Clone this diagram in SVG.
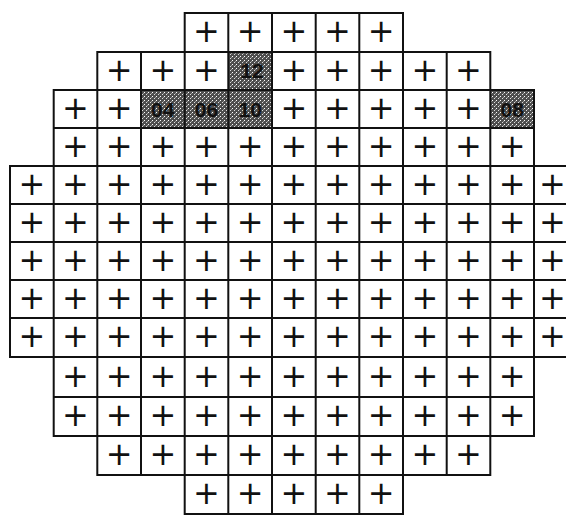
<svg xmlns="http://www.w3.org/2000/svg" width="566" height="515" viewBox="0 0 566 515">
<style>
.g{fill:none;stroke:#111;stroke-width:2}
.p{font-family:"DejaVu Sans",sans-serif;font-size:32px;fill:#111;text-anchor:middle}
.l{font-family:"Liberation Sans",Arial,sans-serif;font-size:21px;font-weight:bold;fill:#111;text-anchor:middle}
.s{fill:url(#st)}
</style>
<defs>
<pattern id="st" width="4" height="4" patternUnits="userSpaceOnUse">
<rect width="4" height="4" fill="#4e4e4e"/>
<rect x="0" y="0" width="1" height="1" fill="#fff"/>
<rect x="2" y="2" width="1" height="1" fill="#ddd"/>
<rect x="3" y="1" width="1" height="1" fill="#999"/>
</pattern>
</defs>
<rect width="566" height="515" fill="#fff"/>
<g id="shaded">
<rect class="s" x="228.3" y="52" width="43.7" height="38"/>
<rect class="s" x="141" y="90" width="131" height="38"/>
<rect class="s" x="490.3" y="90" width="43.7" height="38"/>
</g>
<g id="grid">
<rect class="g" x="184.7" y="13" width="218.3" height="39"/>
<path class="g" d="M228.3 13V52M272 13V52M315.7 13V52M359.3 13V52"/>
<rect class="g" x="97.3" y="52" width="393" height="38"/>
<path class="g" d="M141 52V90M184.7 52V90M228.3 52V90M272 52V90M315.7 52V90M359.3 52V90M403 52V90M446.7 52V90"/>
<rect class="g" x="53.7" y="90" width="480.3" height="76"/>
<path class="g" d="M53.7 128H534M97.3 90V166M141 90V166M184.7 90V166M228.3 90V166M272 90V166M315.7 90V166M359.3 90V166M403 90V166M446.7 90V166M490.3 90V166"/>
<rect class="g" x="10" y="166" width="567.7" height="191"/>
<path class="g" d="M10 204H578M10 242H578M10 280H578M10 318H578M53.7 166V357M97.3 166V357M141 166V357M184.7 166V357M228.3 166V357M272 166V357M315.7 166V357M359.3 166V357M403 166V357M446.7 166V357M490.3 166V357M534 166V357"/>
<rect class="g" x="53.7" y="357" width="480.3" height="79"/>
<path class="g" d="M53.7 397H534M97.3 357V436M141 357V436M184.7 357V436M228.3 357V436M272 357V436M315.7 357V436M359.3 357V436M403 357V436M446.7 357V436M490.3 357V436"/>
<rect class="g" x="97.3" y="436" width="393" height="39"/>
<path class="g" d="M141 436V475M184.7 436V475M228.3 436V475M272 436V475M315.7 436V475M359.3 436V475M403 436V475M446.7 436V475"/>
<rect class="g" x="184.7" y="475" width="218.3" height="39"/>
<path class="g" d="M228.3 475V514M272 475V514M315.7 475V514M359.3 475V514"/>
</g>
<g id="labels">
<text class="l" x="252" y="78">12</text>
<text class="l" x="162.8" y="116.5">04</text>
<text class="l" x="206.5" y="116.5">06</text>
<text class="l" x="250.2" y="116.5">10</text>
<text class="l" x="512.2" y="116.5">08</text>
</g>
<g id="marks">
<text class="p" x="206.5" y="42">+</text><text class="p" x="250.2" y="42">+</text><text class="p" x="293.8" y="42">+</text><text class="p" x="337.5" y="42">+</text><text class="p" x="381.2" y="42">+</text>
<text class="p" x="119.2" y="80.5">+</text><text class="p" x="162.8" y="80.5">+</text><text class="p" x="206.5" y="80.5">+</text><text class="p" x="293.8" y="80.5">+</text><text class="p" x="337.5" y="80.5">+</text><text class="p" x="381.2" y="80.5">+</text><text class="p" x="424.8" y="80.5">+</text><text class="p" x="468.5" y="80.5">+</text>
<text class="p" x="75.5" y="118.5">+</text><text class="p" x="119.2" y="118.5">+</text><text class="p" x="293.8" y="118.5">+</text><text class="p" x="337.5" y="118.5">+</text><text class="p" x="381.2" y="118.5">+</text><text class="p" x="424.8" y="118.5">+</text><text class="p" x="468.5" y="118.5">+</text>
<text class="p" x="75.5" y="156.5">+</text><text class="p" x="119.2" y="156.5">+</text><text class="p" x="162.8" y="156.5">+</text><text class="p" x="206.5" y="156.5">+</text><text class="p" x="250.2" y="156.5">+</text><text class="p" x="293.8" y="156.5">+</text><text class="p" x="337.5" y="156.5">+</text><text class="p" x="381.2" y="156.5">+</text><text class="p" x="424.8" y="156.5">+</text><text class="p" x="468.5" y="156.5">+</text><text class="p" x="512.2" y="156.5">+</text>
<text class="p" x="31.8" y="194.5">+</text><text class="p" x="75.5" y="194.5">+</text><text class="p" x="119.2" y="194.5">+</text><text class="p" x="162.8" y="194.5">+</text><text class="p" x="206.5" y="194.5">+</text><text class="p" x="250.2" y="194.5">+</text><text class="p" x="293.8" y="194.5">+</text><text class="p" x="337.5" y="194.5">+</text><text class="p" x="381.2" y="194.5">+</text><text class="p" x="424.8" y="194.5">+</text><text class="p" x="468.5" y="194.5">+</text><text class="p" x="512.2" y="194.5">+</text><text class="p" x="552.5" y="194.5">+</text>
<text class="p" x="31.8" y="232.5">+</text><text class="p" x="75.5" y="232.5">+</text><text class="p" x="119.2" y="232.5">+</text><text class="p" x="162.8" y="232.5">+</text><text class="p" x="206.5" y="232.5">+</text><text class="p" x="250.2" y="232.5">+</text><text class="p" x="293.8" y="232.5">+</text><text class="p" x="337.5" y="232.5">+</text><text class="p" x="381.2" y="232.5">+</text><text class="p" x="424.8" y="232.5">+</text><text class="p" x="468.5" y="232.5">+</text><text class="p" x="512.2" y="232.5">+</text><text class="p" x="552.5" y="232.5">+</text>
<text class="p" x="31.8" y="270.5">+</text><text class="p" x="75.5" y="270.5">+</text><text class="p" x="119.2" y="270.5">+</text><text class="p" x="162.8" y="270.5">+</text><text class="p" x="206.5" y="270.5">+</text><text class="p" x="250.2" y="270.5">+</text><text class="p" x="293.8" y="270.5">+</text><text class="p" x="337.5" y="270.5">+</text><text class="p" x="381.2" y="270.5">+</text><text class="p" x="424.8" y="270.5">+</text><text class="p" x="468.5" y="270.5">+</text><text class="p" x="512.2" y="270.5">+</text><text class="p" x="552.5" y="270.5">+</text>
<text class="p" x="31.8" y="308.5">+</text><text class="p" x="75.5" y="308.5">+</text><text class="p" x="119.2" y="308.5">+</text><text class="p" x="162.8" y="308.5">+</text><text class="p" x="206.5" y="308.5">+</text><text class="p" x="250.2" y="308.5">+</text><text class="p" x="293.8" y="308.5">+</text><text class="p" x="337.5" y="308.5">+</text><text class="p" x="381.2" y="308.5">+</text><text class="p" x="424.8" y="308.5">+</text><text class="p" x="468.5" y="308.5">+</text><text class="p" x="512.2" y="308.5">+</text><text class="p" x="552.5" y="308.5">+</text>
<text class="p" x="31.8" y="347">+</text><text class="p" x="75.5" y="347">+</text><text class="p" x="119.2" y="347">+</text><text class="p" x="162.8" y="347">+</text><text class="p" x="206.5" y="347">+</text><text class="p" x="250.2" y="347">+</text><text class="p" x="293.8" y="347">+</text><text class="p" x="337.5" y="347">+</text><text class="p" x="381.2" y="347">+</text><text class="p" x="424.8" y="347">+</text><text class="p" x="468.5" y="347">+</text><text class="p" x="512.2" y="347">+</text><text class="p" x="552.5" y="347">+</text>
<text class="p" x="75.5" y="386.5">+</text><text class="p" x="119.2" y="386.5">+</text><text class="p" x="162.8" y="386.5">+</text><text class="p" x="206.5" y="386.5">+</text><text class="p" x="250.2" y="386.5">+</text><text class="p" x="293.8" y="386.5">+</text><text class="p" x="337.5" y="386.5">+</text><text class="p" x="381.2" y="386.5">+</text><text class="p" x="424.8" y="386.5">+</text><text class="p" x="468.5" y="386.5">+</text><text class="p" x="512.2" y="386.5">+</text>
<text class="p" x="75.5" y="426">+</text><text class="p" x="119.2" y="426">+</text><text class="p" x="162.8" y="426">+</text><text class="p" x="206.5" y="426">+</text><text class="p" x="250.2" y="426">+</text><text class="p" x="293.8" y="426">+</text><text class="p" x="337.5" y="426">+</text><text class="p" x="381.2" y="426">+</text><text class="p" x="424.8" y="426">+</text><text class="p" x="468.5" y="426">+</text><text class="p" x="512.2" y="426">+</text>
<text class="p" x="119.2" y="465">+</text><text class="p" x="162.8" y="465">+</text><text class="p" x="206.5" y="465">+</text><text class="p" x="250.2" y="465">+</text><text class="p" x="293.8" y="465">+</text><text class="p" x="337.5" y="465">+</text><text class="p" x="381.2" y="465">+</text><text class="p" x="424.8" y="465">+</text><text class="p" x="468.5" y="465">+</text>
<text class="p" x="206.5" y="504">+</text><text class="p" x="250.2" y="504">+</text><text class="p" x="293.8" y="504">+</text><text class="p" x="337.5" y="504">+</text><text class="p" x="381.2" y="504">+</text>
</g>
</svg>
